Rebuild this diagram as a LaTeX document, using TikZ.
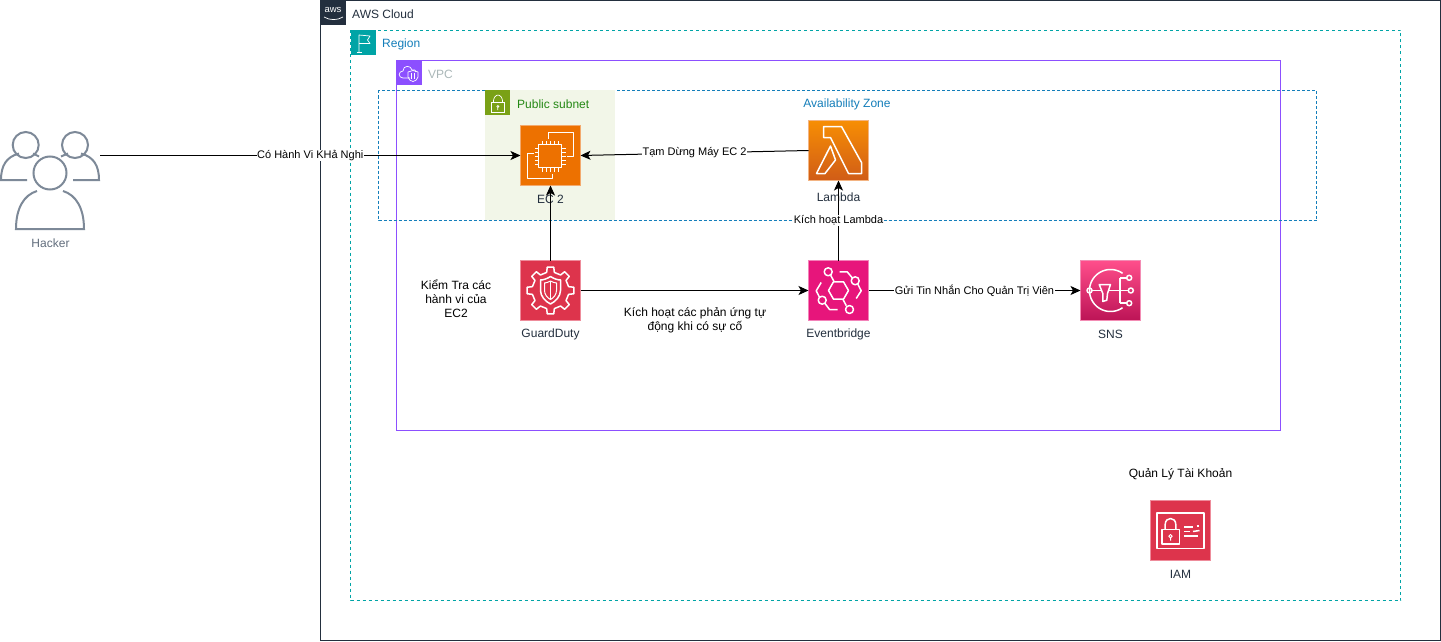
\documentclass[tikz,border=0pt]{standalone}
\usepackage{fontspec}
\setmainfont{Liberation Sans}
\usetikzlibrary{arrows.meta,shapes.geometric}
\definecolor{navy}{HTML}{232F3E}
\definecolor{teal}{HTML}{00A4A6}
\definecolor{purp}{HTML}{8C4FFF}
\definecolor{azblue}{HTML}{147EBA}
\definecolor{subgreen}{HTML}{7AA116}
\definecolor{subfill}{HTML}{F2F6E8}
\definecolor{subtext}{HTML}{248814}
\definecolor{peoplegray}{HTML}{7D8998}
\definecolor{vpctext}{HTML}{AAB7B8}
\tikzset{
  x=1pt,y=-1pt,
  font=\fontsize{12}{14}\selectfont,
  container/.style={line width=1pt,fill=none},
  flagbox/.style={minimum size=25pt,inner sep=0pt,outer sep=0pt,text=white},
  titletext/.style={anchor=west,inner sep=0pt,font=\fontsize{12}{14}\selectfont},
  iconbox/.style={minimum size=60pt,inner sep=0pt,outer sep=0pt,line width=0.8pt},
  iconline/.style={draw=white,line width=1.5pt,line join=round,fill=none},
  iconthin/.style={draw=white,line width=1pt,line join=round,fill=none},
  captiontext/.style={text=navy,inner sep=0pt,font=\fontsize{12}{14}\selectfont},
  note/.style={text=black,inner sep=0pt,align=center,font=\fontsize{12}{14}\selectfont},
  flow/.style={draw=black,line width=1pt,-{Stealth[length=10pt,width=9pt,inset=2.5pt]}},
  edgetext/.style={fill=white,inner sep=0.5pt,text=black,font=\fontsize{11}{13}\selectfont},
  people/.style={draw=peoplegray,line width=2pt,fill=none,line cap=butt},
}
\begin{document}
\begin{tikzpicture}
\useasboundingbox (0,0) rectangle (1441,642);
\fill[white] (0,0) rectangle (1441,642);

% containers
\draw[container,draw=navy] (320.5,0.5) rectangle (1440.5,640.5);
\draw[container,draw=teal,dashed,dash pattern=on 3pt off 3pt] (350.5,30.5) rectangle (1400.5,600.5);
\draw[container,draw=purp] (396.5,60.5) rectangle (1280.5,430.5);
\draw[container,draw=azblue,dashed,dash pattern=on 3pt off 2pt] (378.5,90.5) rectangle (1316.5,220.5);
\fill[subfill] (485,90) rectangle (615,220);

% container tags
\node[flagbox,fill=navy] (awstag) at (333,12.5) {};
\node[inner sep=0pt,text=white,font=\fontsize{9.5}{10}\selectfont] (awslogo) at (333,9.5) {aws};
\draw[white,line width=0.7pt] (324,17) .. controls (330,20.5) and (337,20.5) .. (343,17);
\node[titletext,text=navy] (awstitle) at (352,14.5) {AWS Cloud};

\node[flagbox,fill=teal] (regiontag) at (363,43) {};
\draw[white,line width=0.7pt,line join=round] (359,52) -- (359,35) -- (370,36) -- (367.5,40) -- (370,43.5) -- (359,43.5);
\draw[white,line width=0.7pt] (356.5,52) -- (361.5,52);
\node[titletext,text=azblue] (regiontitle) at (382,44.5) {Region};

\node[flagbox,fill=purp] (vpctag) at (409,73) {};
\draw[white,line width=0.7pt,line join=round] (410,78) -- (403,78) .. controls (398,78) and (398,71) .. (403,71) .. controls (403,65) and (411,65) .. (412,70) .. controls (414,69) and (416,70) .. (416,72);
\draw[white,line width=0.7pt,line join=round] (408,72) -- (413,70.5) -- (418,72) -- (418,77) .. controls (417.5,80) and (415,81) .. (413,81.5) .. controls (411,81) and (408.5,80) .. (408,77) -- cycle;
\draw[white,line width=0.6pt] (411.5,73) -- (411.5,79) (414.5,73) -- (414.5,79);
\node[titletext,text=vpctext] (vpctitle) at (428,74.5) {VPC};

\node[flagbox,fill=subgreen] (subtag) at (497.5,102.5) {};
\draw[white,line width=0.7pt] (491.3,102.7) rectangle (504.3,112.7);
\draw[white,line width=0.7pt] (493.3,102.7) .. controls (493.3,92.5) and (502.7,92.5) .. (502.7,102.7);
\draw[white,line width=0.7pt] (497.8,106.5) circle[radius=1] (497.8,107.5) -- (497.8,110);
\node[titletext,text=subtext] (subtitle) at (517,104.5) {Public subnet};

\node[inner sep=0pt,text=azblue,font=\fontsize{12}{14}\selectfont] (aztitle) at (847,104.5) {Availability Zone};

% hacker
\node[minimum width=100pt,minimum height=100pt,inner sep=0pt,outer sep=0pt] (hacker) at (50,180) {};
\begin{scope}
  \draw[people] (25.7,145) circle[radius=13];
  \draw[people] (75,145) circle[radius=13];
  \draw[people] (50,173) circle[radius=16.5];
  \draw[people] (27,180) -- (1,180) .. controls (1,166) and (6,157) .. (19,153.5);
  \draw[people] (73,180) -- (99,180) .. controls (99,166) and (94,157) .. (81,153.5);
  \draw[people] (33,153.5) -- (39,156.5);
  \draw[people] (68,153.5) -- (61,156.5);
  \draw[people] (37,191) .. controls (24,195) and (16,208) .. (16,229) -- (84,229) .. controls (84,208) and (76,195) .. (63,191);
\end{scope}
\node[inner sep=0pt,text=peoplegray!70!navy] (hackertext) at (50.5,243.5) {Hacker};

% icon boxes
\node[iconbox,fill={rgb,255:red,237;green,113;blue,0},draw={rgb,255:red,243;green,170;blue,110}] (ec2) at (550.5,155.5) {};
\node[iconbox,fill={rgb,255:red,221;green,52;blue,76},draw={rgb,255:red,238;green,140;blue,155}] (guard) at (550.5,290.5) {};
\node[iconbox,top color={rgb,255:red,247;green,142;blue,4},bottom color={rgb,255:red,208;green,92;blue,23},draw={rgb,255:red,243;green,180;blue,130}] (lambda) at (838.5,150.5) {};
\node[iconbox,fill={rgb,255:red,231;green,21;blue,123},draw={rgb,255:red,243;green,130;blue,185}] (event) at (838.5,290.5) {};
\node[iconbox,top color={rgb,255:red,255;green,79;blue,139},bottom color={rgb,255:red,188;green,19;blue,86},draw={rgb,255:red,243;green,140;blue,180}] (sns) at (1110.5,290.5) {};
\node[iconbox,fill={rgb,255:red,221;green,52;blue,76},draw={rgb,255:red,238;green,140;blue,155}] (iam) at (1180.5,530.5) {};

% EC2 glyph
\begin{scope}[shift={(ec2.center)}]
  \draw[iconline] (-12,-11) rectangle (11,12);
  \foreach \t in {-8,-4,0,4,8}{
    \draw[iconthin] (\t-0.5,-11) -- (\t-0.5,-15) (\t-0.5,12) -- (\t-0.5,16);
    \draw[iconthin] (-12,\t+0.5) -- (-16,\t+0.5) (11,\t+0.5) -- (15,\t+0.5);
  }
  \draw[iconline] (-2,-17) -- (-2,-23) -- (23,-23) -- (23,1) -- (16,1);
  \draw[iconline] (-17,-2) -- (-23,-2) -- (-23,23) -- (2,23) -- (2,18);
\end{scope}

% GuardDuty glyph
\begin{scope}[shift={(guard.center)}]
  \draw[iconline] (-12:18.5)
    \foreach \a in {0,45,...,315}{ -- ({\a-12}:18.5) -- ({\a-8}:23.5) -- ({\a+8}:23.5) -- ({\a+12}:18.5) } -- cycle;
  \draw[iconline] (0,-14) .. controls (3,-12) and (7,-10.5) .. (10,-10.5) -- (10,0) .. controls (10,6) and (5,11) .. (0,13.5) .. controls (-5,11) and (-10,6) .. (-10,0) -- (-10,-10.5) .. controls (-7,-10.5) and (-3,-12) .. (0,-14) -- cycle;
  \draw[iconthin] (0,-9.5) .. controls (2,-8.5) and (4,-7.5) .. (6,-7.5) -- (6,0) .. controls (6,4) and (3,7.5) .. (0,9) .. controls (-3,7.5) and (-6,4) .. (-6,0) -- (-6,-7.5) .. controls (-4,-7.5) and (-2,-8.5) .. (0,-9.5) -- cycle;
  \draw[iconthin] (0,-9.5) -- (0,9);
\end{scope}

% Lambda glyph
\begin{scope}[shift={(lambda.center)}]
  \draw[iconline] (-15,-24) -- (3,-24) -- (23,12) -- (23,23) -- (10,23) -- (-8,-13) -- (-15,-13) -- cycle;
  \draw[iconline] (-8,-4.5) -- (-3,9.5) -- (-13.5,23) -- (-22,23) -- cycle;
\end{scope}

% Eventbridge glyph
\begin{scope}[shift={(event.center)}]
  \draw[iconline] (10,0) -- (5,-8.7) -- (-5,-8.7) -- (-10,0) -- (-5,8.7) -- (5,8.7) -- cycle;
  \draw[iconline] (-10.3,-18.7) circle[radius=4];
  \draw[iconline] (16.7,-9.7) circle[radius=4];
  \draw[iconline] (-16.3,9.7) circle[radius=4];
  \draw[iconline] (11,19) circle[radius=4];
  \draw[iconline] (-7.8,-15.2) -- (-4.5,-9);
  \draw[iconline] (7.8,15.2) -- (4.5,9);
  \draw[iconline] (13.7,-12.7) -- (8.7,-18.7) -- (1,-18.7);
  \draw[iconline] (19.3,-6.3) -- (22.7,.3) -- (17.7,8);
  \draw[iconline] (-19,6.7) -- (-22.3,.3) -- (-17.3,-8);
  \draw[iconline] (-13.7,12.7) -- (-9,19) -- (-1,19);
\end{scope}

% SNS glyph
\begin{scope}[shift={(sns.center)}]
  \draw[iconline] plot[domain=55:305,samples=60] ({21*cos(\x)},{21*sin(\x)});
  \draw[iconline] (-21,0) circle[radius=2.5];
  \draw[iconline] (-18.5,0) -- (-10,0);
  \draw[iconline] (-11.3,-6) -- (0,-6) -- (-3,3) -- (-3.7,9.7) -- (-7.7,11) -- (-7.7,3) -- cycle;
  \draw[iconline] (-1.5,0) -- (18,0);
  \draw[iconline] (9.7,-12.7) -- (9.7,12.7);
  \draw[iconline] (9.7,-12.7) -- (16.2,-12.7);
  \draw[iconline] (9.7,12.7) -- (16.2,12.7);
  \draw[iconline] (18.7,-12.7) circle[radius=2.5];
  \draw[iconline] (20.3,0) circle[radius=2.5];
  \draw[iconline] (18.7,12.7) circle[radius=2.5];
\end{scope}

% IAM glyph
\begin{scope}[shift={(iam.center)}]
  \draw[iconline] (-23.7,-17.7) rectangle (23.7,18);
  \draw[iconline] (-18.7,-1) rectangle (-1,13.7);
  \draw[iconline] (-15.3,-1) -- (-15.3,-6) .. controls (-15.3,-14) and (-4.7,-14) .. (-4.7,-6) -- (-4.7,-1);
  \draw[iconthin] (-10,5.7) circle[radius=1.7] (-10,7.4) -- (-10,10);
  \draw[iconline] (3.7,-3.7) -- (12.3,-3.7);
  \draw[iconline] (16,-4.7) -- (18,-4.7);
  \draw[iconline] (3.7,1) -- (9,1);
  \draw[iconline] (12.5,1) -- (19,0);
  \draw[iconline] (3.7,5.7) -- (17,5.7);
\end{scope}

% captions
\node[captiontext] (ec2text) at (550.5,199) {EC 2};
\node[captiontext] (guardtext) at (550.5,334) {GuardDuty};
\node[captiontext] (lambdatext) at (838.5,197) {Lambda};
\node[captiontext] (eventtext) at (838.5,334) {Eventbridge};
\node[captiontext] (snstext) at (1110.5,334) {SNS};
\node[captiontext] (iamtext) at (1180.5,574) {IAM};

% free notes
\node[note] (note1) at (456,298.5) {Kiểm Tra các\\hành vi của\\EC2};
\node[note] (note2) at (695,320.5) {Kích hoạt các phản ứng tự\\động khi có sự cố};
\node[note] (note3) at (1180.5,474.5) {Quản Lý Tài Khoản};

% connectors
\draw[flow] (hacker.east |- ec2.west) -- node[edgetext] (lab1) {Có Hành Vi KHả Nghi} (ec2.west);
\draw[flow] (lambda.west) -- node[edgetext] (lab2) {Tạm Dừng Máy EC 2} (ec2.east);
\draw[flow] (guard.north) -- (ec2.south);
\draw[flow] (guard.east) -- (event.west);
\draw[flow] (event.north) -- node[edgetext] (lab3) {Kích hoạt Lambda} (lambda.south);
\draw[flow] (event.east) -- node[edgetext] (lab4) {Gửi Tin Nhắn Cho Quản Trị Viên} (sns.west);
\end{tikzpicture}
\end{document}
